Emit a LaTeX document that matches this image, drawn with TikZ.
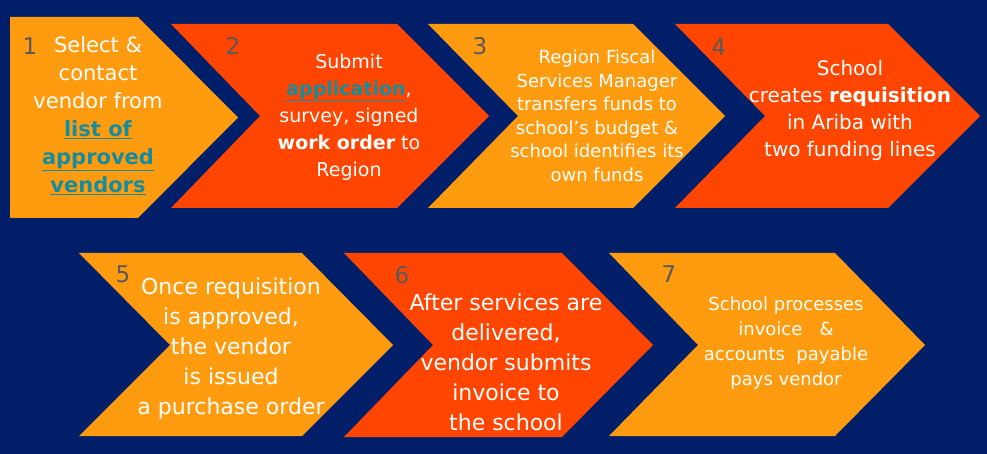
\documentclass[tikz,border=0pt]{standalone}
\usepackage{fontspec}
\setmainfont{DejaVu Sans}
\definecolor{navy}{RGB}{0,31,104}
\definecolor{stepamber}{RGB}{255,155,15}
\definecolor{stepflame}{RGB}{255,69,0}
\definecolor{numgray}{RGB}{89,89,89}
\definecolor{linkteal}{RGB}{24,140,156}
\newcommand{\steplink}[1]{\textcolor{linkteal}{\underline{\textbf{#1}}}}

\begin{document}
\begin{tikzpicture}[x=1pt,y=-1pt,
  amber/.style={fill=stepamber},
  flame/.style={fill=stepflame},
  stepnum/.style={text=numgray,inner sep=0pt,font=\fontsize{23}{26}\selectfont},
  steptext/.style={text=white,align=center,inner sep=0pt}]
  \fill[navy] (0,0) rectangle (987,454);
  \useasboundingbox (0,0) rectangle (987,454);
  % Top row of chevrons
  \fill[amber] (10,17) -- (138,17) -- (238,117.5) -- (138,218) -- (10,218) -- cycle;
  \fill[flame] (171,24) -- (397,24) -- (489,116) -- (397,208) -- (171,208) -- (260,116) -- cycle;
  \fill[amber] (428,24) -- (633,24) -- (725,116) -- (633,208) -- (428,208) -- (518,116) -- cycle;
  \fill[flame] (675,24) -- (888,24) -- (980,116) -- (888,208) -- (675,208) -- (765,116) -- cycle;
  % Bottom row of chevrons
  \fill[amber] (79,253) -- (302,253) -- (393,345) -- (302,436) -- (79,436) -- (170,345) -- cycle;
  \fill[flame] (344,253) -- (562,253) -- (653,345) -- (562,437) -- (344,437) -- (433,345) -- cycle;
  \fill[amber] (609,253) -- (835,253) -- (925,345) -- (835,436) -- (609,436) -- (698,345) -- cycle;
  % Step numbers
  \node[stepnum] (n1) at (30,46)  {1};
  \node[stepnum] (n2) at (233,46) {2};
  \node[stepnum] (n3) at (480,46) {3};
  \node[stepnum] (n4) at (719,47) {4};
  \node[stepnum] (n5) at (123,274) {5};
  \node[stepnum] (n6) at (402,275) {6};
  \node[stepnum] (n7) at (669,274) {7};
  % Step texts
  \node[steptext,font=\fontsize{21}{28}\selectfont] (t1) at (98,116)
    {Select \&\\contact\\vendor from\\\steplink{list of}\\\steplink{approved}\\\steplink{vendors}};
  \node[steptext,font=\fontsize{19}{27}\selectfont] (t2) at (349,117)
    {Submit\\\steplink{application},\\survey, signed\\\textbf{work order} to\\Region};
  \node[steptext,font=\fontsize{18}{23.5}\selectfont] (t3) at (597,116)
    {Region Fiscal\\Services Manager\\transfers funds to\\school’s budget \&\\school identifies its\\own funds};
  \node[steptext,font=\fontsize{20}{27}\selectfont] (t4) at (850,110)
    {School\\creates \textbf{requisition}\\in Ariba with\\two funding lines};
  \node[steptext,font=\fontsize{22}{30}\selectfont] (t5) at (231,348)
    {Once requisition\\is approved,\\the vendor\\is issued\\a purchase order};
  \node[steptext,font=\fontsize{22}{30}\selectfont] (t6) at (506,362)
    {After services are\\delivered,\\vendor submits\\invoice to\\the school};
  \node[steptext,font=\fontsize{18}{25}\selectfont] (t7) at (786,343)
    {School processes\\invoice\ \ \ \&\\accounts\ \ payable\\pays vendor};
\end{tikzpicture}
\end{document}
